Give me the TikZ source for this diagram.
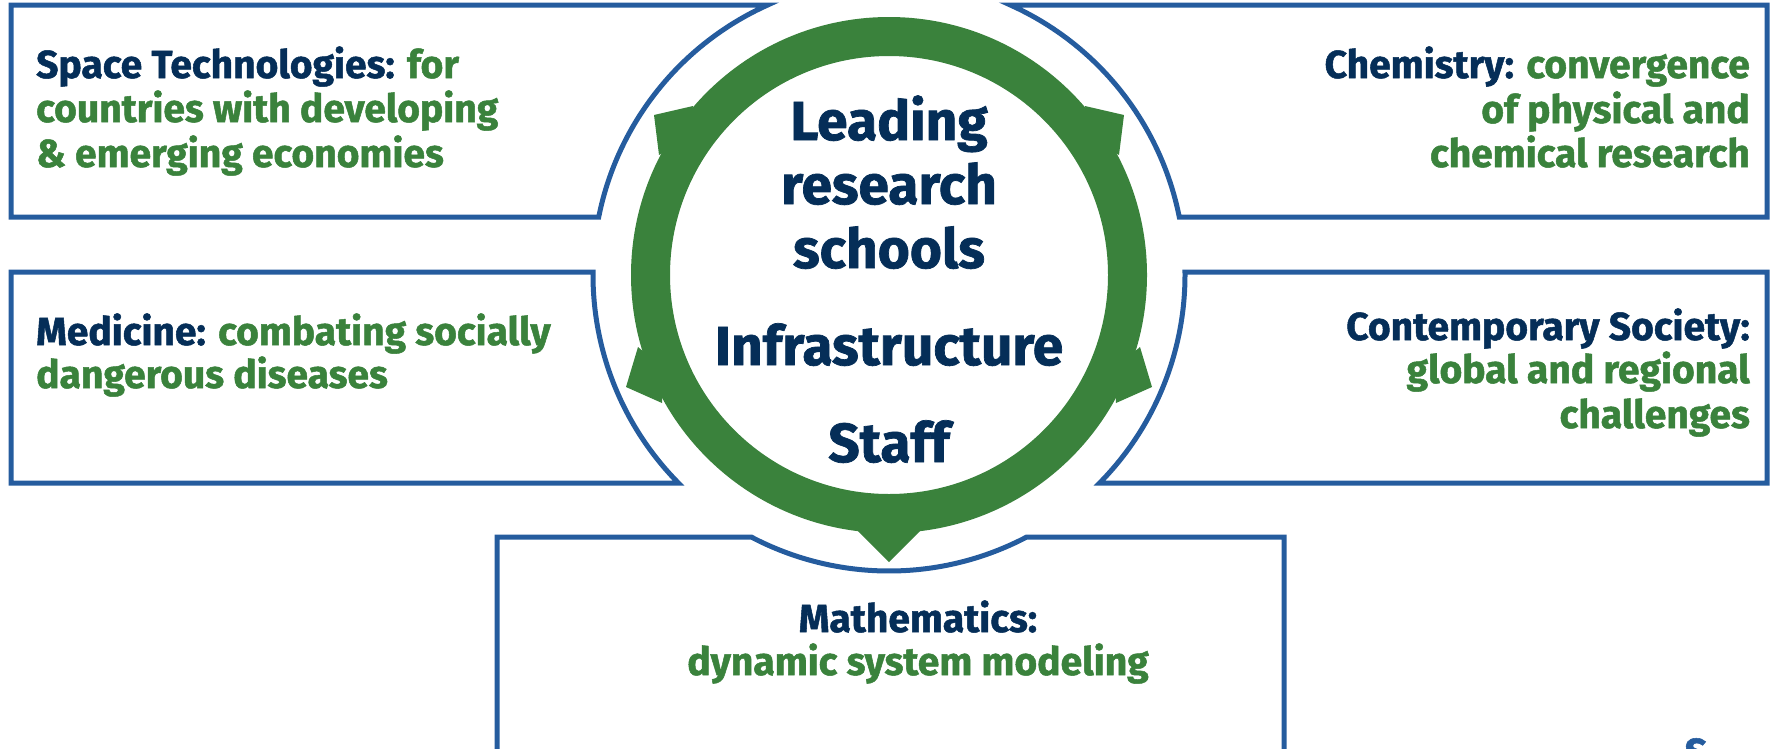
\documentclass[tikz,border=0pt]{standalone}
\usepackage{fontspec}
\setmainfont{Fira Sans}[BoldFeatures={FakeBold=1.3}]
\definecolor{navy}{RGB}{5,46,88}
\definecolor{leaf}{RGB}{58,130,60}
\definecolor{frame}{RGB}{37,92,158}
\begin{document}
\begin{tikzpicture}[x=1pt,y=1pt,
  boxline/.style={draw=frame, line width=5pt, line join=miter},
  side/.style={font=\fontsize{39}{44}\selectfont\bfseries, text=navy, inner sep=0pt},
  hub/.style={font=\fontsize{55}{64}\selectfont\bfseries, text=navy, inner sep=0pt, anchor=base},
  ringfill/.style={fill=leaf}
]
\useasboundingbox (0,0) rectangle (1777,-748);
\clip (0,0) rectangle (1777,-748);
\coordinate (C) at (889,-275);

% frames
\path[boxline] (11,-5) -- (767.69,-5) arc[start angle=114.19, end angle=168.70, radius=296] -- (11,-217) -- cycle;
\path[boxline] (11,-272) -- (593.02,-272) arc[start angle=179.42, end angle=224.65, radius=296] -- (11,-483) -- cycle;
\path[boxline] (1767,-5) -- (1010.31,-5) arc[start angle=65.81, end angle=11.30, radius=296] -- (1767,-217) -- cycle;
\path[boxline] (1767,-272) -- (1184.98,-272) arc[start angle=0.58, end angle=-44.65, radius=296] -- (1767,-483) -- cycle;
\path[boxline] (497,-752) -- (497,-537) -- (751.26,-537) arc[start angle=242.27, end angle=297.73, radius=296] -- (1284,-537) -- (1284,-752) -- cycle;

% ring
\fill[leaf, even odd rule] (C) circle (258) (C) circle (219);
\fill[ringfill] (693,-106) -- (654,-115) -- (659,-155) -- (688,-139) -- cycle;
\fill[ringfill] (1085,-106) -- (1124,-115) -- (1119,-155) -- (1090,-139) -- cycle;
\fill[ringfill] (638,-347) -- (626,-387) -- (662,-403) -- (664,-369) -- cycle;
\fill[ringfill] (1140,-347) -- (1152,-387) -- (1116,-403) -- (1114,-369) -- cycle;
\fill[ringfill] (858,-531) -- (889,-562) -- (920,-531) -- (889,-520) -- cycle;

% hub text
\node[hub] (h1) at (889,-140) {Leading};
\node[hub] (h2) at (889,-204) {research};
\node[hub] (h3) at (889,-268) {schools};
\node[hub] (h4) at (889,-365) {Infrastructure};
\node[hub] (h5) at (889,-462) {Staff};

% side texts
\node[side, anchor=base west] (sp1) at (36,-78) {Space Technologies: \textcolor{leaf}{for}};
\node[side, anchor=base west, text=leaf] (sp2) at (36,-122) {countries with developing};
\node[side, anchor=base west, text=leaf] (sp3) at (36,-167) {\& emerging economies};

\node[side, anchor=base west] (md1) at (36,-345) {Medicine: \textcolor{leaf}{combating socially}};
\node[side, anchor=base west, text=leaf] (md2) at (36,-388) {dangerous diseases};

\node[side, anchor=base east] (ch1) at (1750,-78) {Chemistry: \textcolor{leaf}{convergence}};
\node[side, anchor=base east, text=leaf] (ch2) at (1750,-123) {of physical and};
\node[side, anchor=base east, text=leaf] (ch3) at (1750,-167) {chemical research};

\node[side, anchor=base east] (cs1) at (1750,-340) {Contemporary Society:};
\node[side, anchor=base east, text=leaf] (cs2) at (1750,-383) {global and regional};
\node[side, anchor=base east, text=leaf] (cs3) at (1750,-428) {challenges};

\node[side, anchor=base] (ma1) at (918,-632) {Mathematics:};
\node[side, anchor=base, text=leaf] (ma2) at (918,-675) {dynamic system modeling};

\node[font=\fontsize{40}{40}\selectfont\bfseries, text=frame, inner sep=0pt, anchor=north] (cut) at (1696,-738) {S};
\end{tikzpicture}
\end{document}
